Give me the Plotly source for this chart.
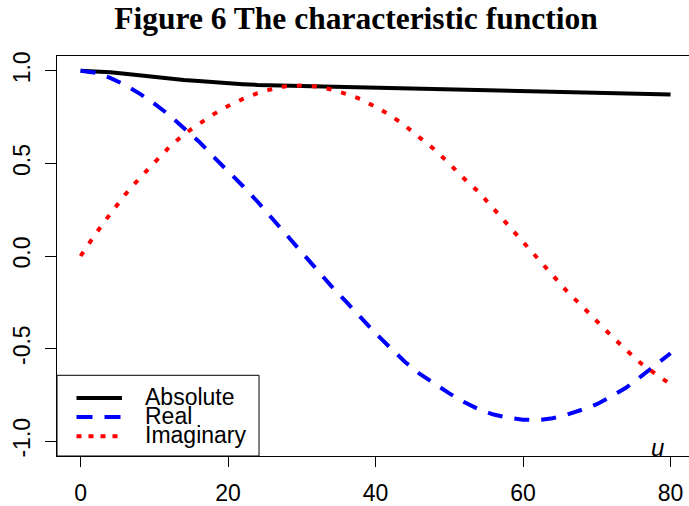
import plotly.graph_objects as go

# Characteristic function evaluated on a grid of u values
u = [0, 2, 4, 6, 8, 10, 12, 14, 16, 18, 20, 22, 24, 26, 28, 30, 32, 34, 36, 38, 40,
     42, 44, 46, 48, 50, 52, 54, 56, 58, 60, 62, 64, 66, 68, 70, 72, 74, 76, 78, 80]

absolute = [1.000, 0.998, 0.992, 0.984, 0.975, 0.965, 0.957, 0.950, 0.945, 0.938, 0.933,
            0.928, 0.924, 0.922, 0.920, 0.918, 0.916, 0.914, 0.913, 0.911, 0.909,
            0.907, 0.905, 0.902, 0.900, 0.898, 0.895, 0.893, 0.891, 0.889, 0.887,
            0.886, 0.884, 0.882, 0.879, 0.877, 0.876, 0.874, 0.873, 0.873, 0.872]

real = [1.000, 0.990, 0.962, 0.925, 0.877, 0.823, 0.762, 0.694, 0.620, 0.537, 0.459,
        0.378, 0.293, 0.202, 0.113, 0.024, -0.075, -0.163, -0.247, -0.333, -0.417,
        -0.496, -0.572, -0.637, -0.690, -0.742, -0.789, -0.828, -0.856, -0.874, -0.884,
        -0.886, -0.876, -0.856, -0.830, -0.800, -0.758, -0.710, -0.650, -0.590, -0.525]

imaginary = [0.000, 0.118, 0.226, 0.330, 0.420, 0.506, 0.587, 0.657, 0.713, 0.765, 0.810,
             0.848, 0.879, 0.902, 0.918, 0.921, 0.915, 0.899, 0.875, 0.847, 0.805,
             0.760, 0.703, 0.639, 0.575, 0.499, 0.418, 0.345, 0.256, 0.168, 0.076,
             -0.010, -0.102, -0.193, -0.271, -0.354, -0.432, -0.508, -0.580, -0.638, -0.692]

x_ticks = [0, 20, 40, 60, 80]
y_ticks = [-1.0, -0.5, 0.0, 0.5, 1.0]
y_tick_text = ["-1.0", "-0.5", "0.0", "0.5", "1.0"]

series = [
    ("Absolute", absolute, "#000000", "solid"),
    ("Real", real, "#0000FF", "15px,12px"),
    ("Imaginary", imaginary, "#FF0000", "5px,10px"),
]
legend_dash = {"solid": "solid", "15px,12px": "16px,12px", "5px,10px": "5px,7px"}

SANS = "Liberation Sans, Arial, sans-serif"
W, H = 689, 506
L, R, T, B = 57, 0, 56, 46

fig = go.Figure()
for name, vals, color, dash in series:
    fig.add_trace(go.Scatter(x=u, y=vals, mode="lines", name=name,
                             line=dict(color=color, width=4, dash=dash),
                             showlegend=False))

# Hand-built legend box in the lower-left corner of the plotting region
pw, ph = W - L - R, H - T - B
def px(xp):
    return (xp - L) / pw
def py(yp):
    return (H - B - yp) / ph

shapes = [dict(type="rect", xref="paper", yref="paper",
               x0=0, x1=px(259), y0=0, y1=py(378.5),
               line=dict(color="#000000", width=1), fillcolor="white", layer="above")]
annotations = []
rows = [401.5, 420.5, 440]
for (name, vals, color, dash), ry in zip(series, rows):
    shapes.append(dict(type="line", xref="paper", yref="paper",
                       x0=px(76.5), x1=px(122), y0=py(ry), y1=py(ry),
                       line=dict(color=color, width=4, dash=legend_dash[dash]),
                       layer="above"))
    annotations.append(dict(xref="paper", yref="paper", x=px(143), y=py(ry - 1),
                            text=name, showarrow=False, xanchor="left", yanchor="middle",
                            font=dict(family=SANS, size=23, color="#000000")))

annotations.append(dict(xref="x", yref="y", x=78.2, y=-1.035, text="<i>u</i>",
                        showarrow=False, xanchor="center", yanchor="middle",
                        font=dict(family=SANS, size=24, color="#000000")))

fig.update_layout(
    width=W, height=H,
    margin=dict(l=L, r=R, t=T, b=B),
    paper_bgcolor="white", plot_bgcolor="white",
    title=dict(text="<b>Figure 6 The characteristic function</b>",
               x=356 / W, xanchor="center", xref="container",
               y=1 - 18 / H, yanchor="middle", yref="container",
               font=dict(family="Liberation Serif, Times New Roman, serif", size=31.5,
                         color="#000000")),
    shapes=shapes, annotations=annotations,
    showlegend=False,
)
fig.update_xaxes(range=[-3.2, 82.5], tickvals=x_ticks, ticks="outside", ticklen=10,
                 tickwidth=1, tickcolor="#000000", showgrid=False, zeroline=False,
                 showline=True, linecolor="#000000", linewidth=1, mirror=True,
                 tickfont=dict(family=SANS, size=23, color="#000000"),
                 ticklabelstandoff=6)
fig.update_yaxes(range=[-1.08, 1.08], tickvals=y_ticks, ticktext=y_tick_text,
                 ticks="outside", ticklen=11, tickwidth=1, tickcolor="#000000",
                 showgrid=False, zeroline=False, showline=True, linecolor="#000000",
                 linewidth=1, mirror=False, tickangle=-90,
                 tickfont=dict(family=SANS, size=23, color="#000000"),
                 ticklabelstandoff=6)

fig.write_html("out.html")
